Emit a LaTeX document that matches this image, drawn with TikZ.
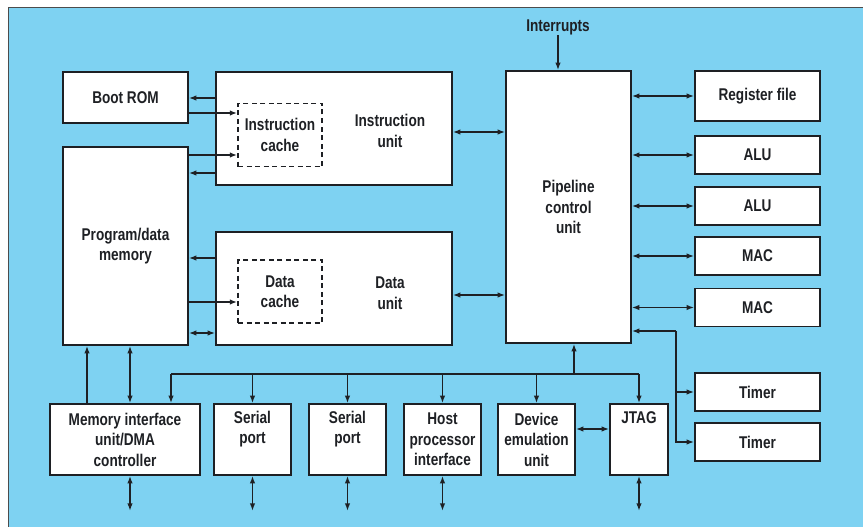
\documentclass[tikz,border=0pt]{standalone}
\usepackage{fontspec}
\setmainfont{Liberation Sans}[FakeStretch=0.8]
\usetikzlibrary{arrows.meta}
\definecolor{bgblue}{RGB}{126,210,242}
\definecolor{ink}{RGB}{30,32,36}
\tikzset{
 >={Latex[length=7.5pt,width=5.5pt]},
 txt/.style={font=\bfseries\fontsize{17}{20.5}\selectfont, text=ink, align=center, inner sep=0pt},
 blk/.style={txt, draw=ink, fill=white, line width=1.7pt},
 cache/.style={txt, draw=ink, line width=1.5pt, dash pattern=on 5pt off 3.5pt, minimum width=84pt, minimum height=63pt},
 side/.style={blk, minimum width=125pt, minimum height=38pt},
 port/.style={blk, minimum width=77pt, minimum height=71pt},
 wire/.style={draw=ink, line width=1.6pt},
}
\begin{document}
\begin{tikzpicture}[x=1pt,y=-1pt]
 \useasboundingbox (0,0) rectangle (863,527);
 \fill[bgblue] (8,7) rectangle (870,535);
 \draw[gray!60!black, line width=0.8pt] (8,535) -- (8,7) -- (870,7);

 \node[blk, minimum width=125pt, minimum height=51pt] (boot) at (125.5,97.5) {Boot ROM};
 \node[blk, minimum width=125pt, minimum height=198pt] (mem) at (125.5,246) {Program/data\\memory};
 \node[blk, minimum width=236pt, minimum height=113pt] (iunit) at (334,128.5) {};
 \node[txt] (iunitlbl) at (390,131) {Instruction\\unit};
 \node[cache] (icache) at (280,135) {Instruction\\cache};
 \node[blk, minimum width=236pt, minimum height=113pt] (dunit) at (334,288.5) {};
 \node[txt] (dunitlbl) at (390,293) {Data\\unit};
 \node[cache] (dcache) at (280,291.5) {Data\\cache};
 \node[blk, minimum width=125pt, minimum height=272pt] (pcu) at (568.5,207) {Pipeline\\control\\unit};
 \node[txt] (intr) at (558,27) {Interrupts};

 \node[side, minimum height=50pt] (reg) at (757.5,96) {Register file};
 \node[side] (alu1) at (757.5,155) {ALU};
 \node[side] (alu2) at (757.5,206) {ALU};
 \node[side] (mac1) at (757.5,256) {MAC};
 \node[side] (mac2) at (757.5,307.5) {MAC};
 \node[side] (tim1) at (757.5,392) {Timer};
 \node[side] (tim2) at (757.5,442) {Timer};

 \node[port, minimum width=150pt] (mdma) at (125,439.5) {Memory interface\\unit/DMA\\controller};
 \node[port] (sp1) at (252.5,439.5) {};
 \node[txt] (sp1lbl) at (252.5,429) {Serial\\port};
 \node[port] (sp2) at (347.5,439.5) {};
 \node[txt] (sp2lbl) at (347.5,429) {Serial\\port};
 \node[port] (host) at (442.5,439.5) {Host\\processor\\interface};
 \node[port] (dev) at (536.5,439.5) {Device\\emulation\\unit};
 \node[port, minimum width=58pt] (jtag) at (639,439.5) {};
 \node[txt] (jtaglbl) at (639,418) {JTAG};

 \coordinate (busL) at (171,374);
 \coordinate (busR) at (639,374);
 \coordinate (busUp) at (574,374);
 \coordinate (tbus) at (676,331);

 \draw[wire,->] (iunit.west |- 0,98) -- (boot.east |- 0,98);
 \draw[wire,->] (boot.east |- 0,113) -- (icache.west |- 0,113);
 \draw[wire,->] (mem.east |- 0,155) -- (icache.west |- 0,155);
 \draw[wire,->] (iunit.west |- 0,173) -- (mem.east |- 0,173);
 \draw[wire,->] (dunit.west |- 0,258) -- (mem.east |- 0,258);
 \draw[wire,->] (mem.east |- 0,302) -- (dcache.west |- 0,302);
 \draw[wire,<->] (mem.east |- 0,333) -- (dunit.west |- 0,333);
 \draw[wire,<->] (iunit.east |- 0,132) -- (pcu.west |- 0,132);
 \draw[wire,<->] (dunit.east |- 0,295) -- (pcu.west |- 0,295);
 \draw[wire,->] (intr.south) -- (intr.south |- pcu.north);

 \foreach \n in {reg,alu1,alu2,mac1,mac2}
  \draw[wire,<->] (pcu.east |- \n.west) -- (\n.west);
 \draw[wire,->] (tbus) -- (pcu.east |- tbus);
 \draw[wire,->] (tbus) |- (tim2.west);
 \draw[wire,->] (tbus |- tim1.west) -- (tim1.west);

 \draw[wire] (busL) -- (busR);
 \draw[wire,->] (busL) -- (busL |- mdma.north);
 \foreach \n in {sp1,sp2,host,dev}
  \draw[wire,->] (\n.north |- busL) -- (\n.north);
 \draw[wire,->] (busR) -- (jtag.north);
 \draw[wire,->] (busUp) -- (busUp |- pcu.south);
 \draw[wire,<->] (dev.east |- 0,429) -- (jtag.west |- 0,429);

 \draw[wire,->] (mdma.north -| 87,0) -- (mem.south -| 87,0);
 \draw[wire,<->] (mdma.north -| 130,0) -- (mem.south -| 130,0);
 \draw[wire,<->] ([xshift=5pt]mdma.south) -- ++(0,35);
 \foreach \n in {sp1,sp2,host,jtag}
  \draw[wire,<->] (\n.south) -- ++(0,35);
\end{tikzpicture}
\end{document}
